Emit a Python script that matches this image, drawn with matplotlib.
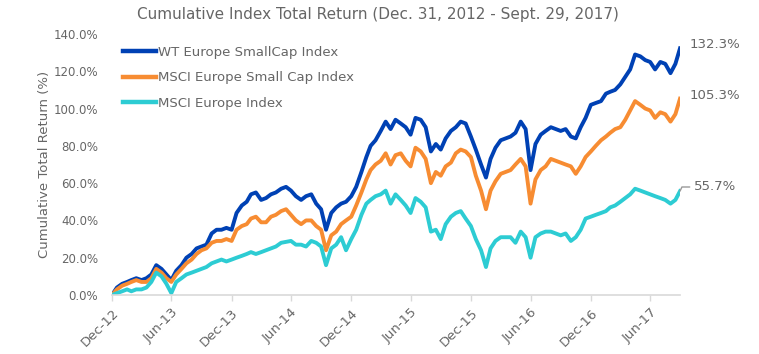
import pandas as pd
import matplotlib
matplotlib.use("Agg")
import matplotlib.pyplot as plt

# semi-monthly readings (15th and month end), Dec 31 2012 -> Sep 29 2017
wt_smallcap = [
    0, 4, 6, 7, 8, 9, 8, 9, 11, 16,
    14, 11, 8, 13, 16, 20, 22, 25, 26, 27,
    33, 35, 35, 36, 35, 44, 48, 50, 54, 55,
    51, 52, 54, 55, 57, 58, 56, 53, 51, 53,
    54, 49, 46, 35, 44, 47, 49, 50, 53, 58,
    66, 74, 80, 83, 88, 93, 89, 94, 92, 90,
    86, 95, 94, 90, 77, 81, 78, 84, 88, 90,
    93, 92, 85, 78, 70, 63, 73, 79, 83, 84,
    85, 87, 93, 89, 67, 81, 86, 88, 90, 89,
    88, 89, 85, 84, 90, 95, 102, 103, 104, 108,
    109, 110, 113, 117, 121, 129, 128, 126, 125, 121,
    125, 124, 119, 124, 132.3,
]
msci_smallcap = [
    0, 3, 5, 6, 7, 8, 7, 7, 9, 14,
    12, 9, 7, 11, 14, 17, 19, 22, 24, 25,
    28, 29, 29, 30, 29, 35, 37, 38, 41, 42,
    39, 39, 42, 43, 45, 46, 43, 40, 38, 40,
    40, 37, 35, 24, 32, 34, 38, 40, 42, 48,
    55, 62, 67, 70, 72, 76, 70, 75, 76, 72,
    69, 79, 77, 73, 60, 66, 64, 69, 71, 76,
    78, 77, 74, 64, 56, 46, 56, 61, 65, 66,
    67, 70, 73, 69, 49, 62, 67, 69, 73, 72,
    71, 70, 69, 65, 69, 74, 77, 80, 83, 85,
    87, 89, 90, 94, 99, 104, 102, 100, 99, 95,
    98, 97, 93, 97, 105.3,
]
msci_europe = [
    0, 1, 2, 3, 2, 3, 3, 4, 7, 12,
    10, 6, 1, 7, 9, 11, 12, 13, 14, 15,
    17, 18, 19, 18, 19, 20, 21, 22, 23, 22,
    23, 24, 25, 26, 28, 28.5, 29, 27, 27, 26,
    29, 28, 26, 16, 25, 27, 31, 24, 30, 35,
    43, 49, 51, 53, 54, 56, 49, 54, 51, 48,
    44, 52, 50, 47, 34, 35, 30, 38, 42, 44,
    45, 41, 37, 30, 24, 15, 25, 29, 31, 31,
    31, 28, 34, 31, 20, 31, 33, 34, 34, 33,
    32, 33, 29, 31, 35, 41, 42, 43, 44, 45,
    47, 48, 50, 52, 54, 57, 56, 55, 54, 53,
    52, 51, 49, 51, 55.7,
]
series_names = ["WT Europe SmallCap Index", "MSCI Europe Small Cap Index", "MSCI Europe Index"]
end_labels = ["132.3%", "105.3%", "55.7%"]
tick_dates = ["2012-12-31", "2013-06-30", "2013-12-31", "2014-06-30", "2014-12-31",
              "2015-06-30", "2015-12-31", "2016-06-30", "2016-12-31", "2017-06-30"]
tick_labels = ["Dec-12", "Jun-13", "Dec-13", "Jun-14", "Dec-14",
               "Jun-15", "Dec-15", "Jun-16", "Dec-16", "Jun-17"]

dates = [pd.Timestamp("2012-12-31")]
for month in pd.period_range("2013-01", "2017-09", freq="M"):
    dates.append(pd.Timestamp(year=month.year, month=month.month, day=15))
    dates.append(month.to_timestamp(how="end").normalize())
dates[-1] = pd.Timestamp("2017-09-29")

colors = ["#0041B4", "#F78C32", "#2DCCD3"]
grey = "#666666"

fig = plt.figure(figsize=(7.59, 3.54), dpi=100)
ax = fig.add_axes([112 / 759, 59 / 354, 568 / 759, 261 / 354])

for vals, name, c in zip([wt_smallcap, msci_smallcap, msci_europe], series_names, colors):
    ax.plot(dates, vals, color=c, lw=2.8, label=name, solid_joinstyle="round")

ax.set_xlim(dates[0], dates[-1])
ax.set_ylim(0, 140)
ax.set_yticks(range(0, 141, 20))
ax.set_yticklabels([f"{v:.1f}%" for v in range(0, 141, 20)], color=grey, fontsize=8.5)
ax.set_xticks(pd.to_datetime(tick_dates))
ax.set_xticklabels(tick_labels, rotation=45, ha="right", va="top",
                   rotation_mode="anchor", color=grey, fontsize=9.5)
ax.tick_params(axis="y", length=0, pad=10)
ax.tick_params(axis="x", length=4, width=1, color="#D9D9D9", pad=4)
for side in ["top", "right", "left"]:
    ax.spines[side].set_visible(False)
ax.spines["bottom"].set_color("#D9D9D9")
ax.spines["bottom"].set_linewidth(1.2)

ax.set_ylabel("Cumulative Total Return (%)", color=grey, fontsize=9.5)
ax.yaxis.set_label_coords(-0.108, 0.5)
fig.text(378 / 759, 1 - 14 / 354, "Cumulative Index Total Return (Dec. 31, 2012 - Sept. 29, 2017)",
         ha="center", va="center", color=grey, fontsize=11)

leg = ax.legend(loc="upper left", bbox_to_anchor=(116 / 759, 1 - 39 / 354),
                bbox_transform=fig.transFigure, frameon=False, fontsize=9.5,
                handlelength=2.5, handletextpad=0.15, labelspacing=0.95, borderpad=0)
for t in leg.get_texts():
    t.set_color(grey)
for h in leg.get_lines():
    h.set_linewidth(3.2)

ends = [wt_smallcap[-1], msci_smallcap[-1], msci_europe[-1]]
ax.annotate(end_labels[0], xy=(dates[-1], ends[0]), xytext=(7, 3),
            textcoords="offset points", ha="left", va="center", color=grey, fontsize=9.5)
ax.annotate(end_labels[1], xy=(dates[-1], ends[1]), xytext=(7, 2),
            textcoords="offset points", ha="left", va="center", color=grey, fontsize=9.5)
ax.annotate(end_labels[2], xy=(dates[-1], ends[2]), xytext=(10, 3),
            textcoords="offset points", ha="left", va="center", color=grey, fontsize=9.5,
            arrowprops=dict(arrowstyle="-", color="#999999", lw=1,
                            connectionstyle="angle,angleA=0,angleB=65,rad=0",
                            shrinkA=1, shrinkB=0))

fig.savefig("out.png", dpi=100)
